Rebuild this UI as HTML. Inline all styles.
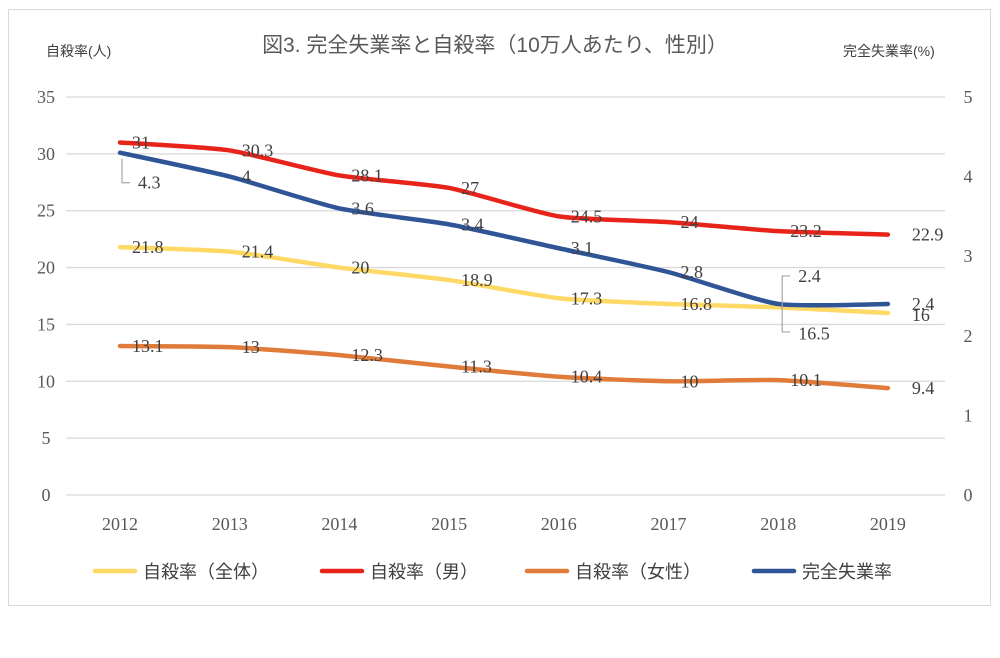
<!DOCTYPE html>
<html><head><meta charset="utf-8"><style>
body{margin:0;background:#fff;width:1000px;height:653px;overflow:hidden}
svg text{font-family:"Liberation Sans","Noto Sans CJK JP",sans-serif}
.v{font-family:"Liberation Serif","Noto Serif CJK SC",serif;font-size:18px;fill:#404040}
.ax{font-family:"Liberation Serif",serif;font-size:18px;fill:#595959}
</style></head><body>
<svg id="chart" width="1000" height="653">
<rect x="8.5" y="9.5" width="982" height="596" fill="#fff" stroke="#d9d9d9"/>
<text x="495" y="52" text-anchor="middle" font-size="21" fill="#595959">図3. 完全失業率と自殺率（10万人あたり、性別）</text>
<text x="46" y="56" font-size="14" fill="#404040">自殺率(人)</text>
<text x="843" y="56" font-size="14" fill="#404040">完全失業率(%)</text>
<g id="grid"></g><g id="lines"></g><g id="labels"></g><g id="legend"></g>
</svg>
<script>
const years=["2012","2013","2014","2015","2016","2017","2018","2019"];
const total=[21.8,21.4,20,18.9,17.3,16.8,16.5,16];
const male=[31,30.3,28.1,27,24.5,24,23.2,22.9];
const female=[13.1,13,12.3,11.3,10.4,10,10.1,9.4];
const unemp=[4.3,4,3.6,3.4,3.1,2.8,2.4,2.4];
const leftTicks=[0,5,10,15,20,25,30,35];
const rightTicks=[0,1,2,3,4,5];
const NS="http://www.w3.org/2000/svg";
const x0=120,dx=109.7,yb=495,yt=97;
const X=i=>x0+i*dx, YL=v=>yb-(yb-yt)*v/35, YR=v=>yb-(yb-yt)*v/5;
function mk(t,a,p){const e=document.createElementNS(NS,t);for(const k in a)e.setAttribute(k,a[k]);(p||document.getElementById('chart')).appendChild(e);return e;}
const grid=document.getElementById('grid');
leftTicks.forEach(v=>{
 const l=mk('line',{x1:66,x2:945,y1:YL(v),y2:YL(v),stroke:'#d9d9d9','stroke-width':1.3},grid);
 
 
 const t=mk('text',{x:46,y:YL(v)+6,'text-anchor':'middle',class:'ax'},grid);t.textContent=v;
 
 
});
rightTicks.forEach(v=>{
 const t=mk('text',{x:968,y:YR(v)+6,'text-anchor':'middle',class:'ax'},grid);t.textContent=v;
 
 
});
years.forEach((y,i)=>{
 const t=mk('text',{x:X(i),y:530,'text-anchor':'middle',class:'ax'},grid);t.textContent=y;
 
 
});
function smooth(pts){let d=`M${pts[0][0]},${pts[0][1]}`;const k=0.1;for(let i=0;i<pts.length-1;i++){const p0=pts[i-1]||pts[i],p1=pts[i],p2=pts[i+1],p3=pts[i+2]||p2;d+=` C${p1[0]+(p2[0]-p0[0])*k},${p1[1]+(p2[1]-p0[1])*k} ${p2[0]-(p3[0]-p1[0])*k},${p2[1]-(p3[1]-p1[1])*k} ${p2[0]},${p2[1]}`;}return d;}
const series=[[total,YL,'#ffd966','series-total'],[male,YL,'#e8231a','series-male'],[female,YL,'#e07b39','series-female'],[unemp,YR,'#2f5597','series-unemployment']];
const lines=document.getElementById('lines'),labels=document.getElementById('labels');
series.forEach(([d,Y,c,n])=>{
 const p=mk('path',{d:smooth(d.map((v,i)=>[X(i),Y(v)])),fill:'none',stroke:c,'stroke-width':4.5,'stroke-linecap':'round'},lines);
 
 
 d.forEach((v,i)=>{
  let x=X(i)+12,y=Y(v)+6;
  if(i===7){x=X(i)+24;}
  if(n==='series-unemployment'&&i===0){y=Y(v)+36;x=X(i)+18;mk('path',{d:`M${X(i)+2},${Y(v)+6} V${Y(v)+30} h8`,fill:'none',stroke:'#a6a6a6','stroke-width':1.2},labels);}
  if(n==='series-unemployment'&&i===6){y=Y(v)-22;x=X(i)+20;mk('path',{d:`M${X(i)+12},${Y(v)-28} h-8 V${Y(v)+28} h8`,fill:'none',stroke:'#a6a6a6','stroke-width':1.2},labels);}
  if(n==='series-total'&&i===6){y=Y(v)+32;x=X(i)+20;}
  if(n==='series-total'&&i===7){y=Y(v)+8;}
  const t=mk('text',{x:x,y:y,class:'v'},labels);t.textContent=v;
  
  
 });
});
const lg=document.getElementById('legend');
[[95,'#ffd966','自殺率（全体）'],[322,'#e8231a','自殺率（男）'],[527,'#e07b39','自殺率（女性）'],[754,'#2f5597','完全失業率']].forEach(([x,c,s])=>{
 const g=mk('g',{},lg);
 
 
 mk('line',{x1:x,x2:x+40,y1:571,y2:571,stroke:c,'stroke-width':4.5,'stroke-linecap':'round'},g);
 const t=mk('text',{x:x+48,y:578,'font-size':18,fill:'#404040'},g);t.textContent=s;
});
</script>
</body></html>
